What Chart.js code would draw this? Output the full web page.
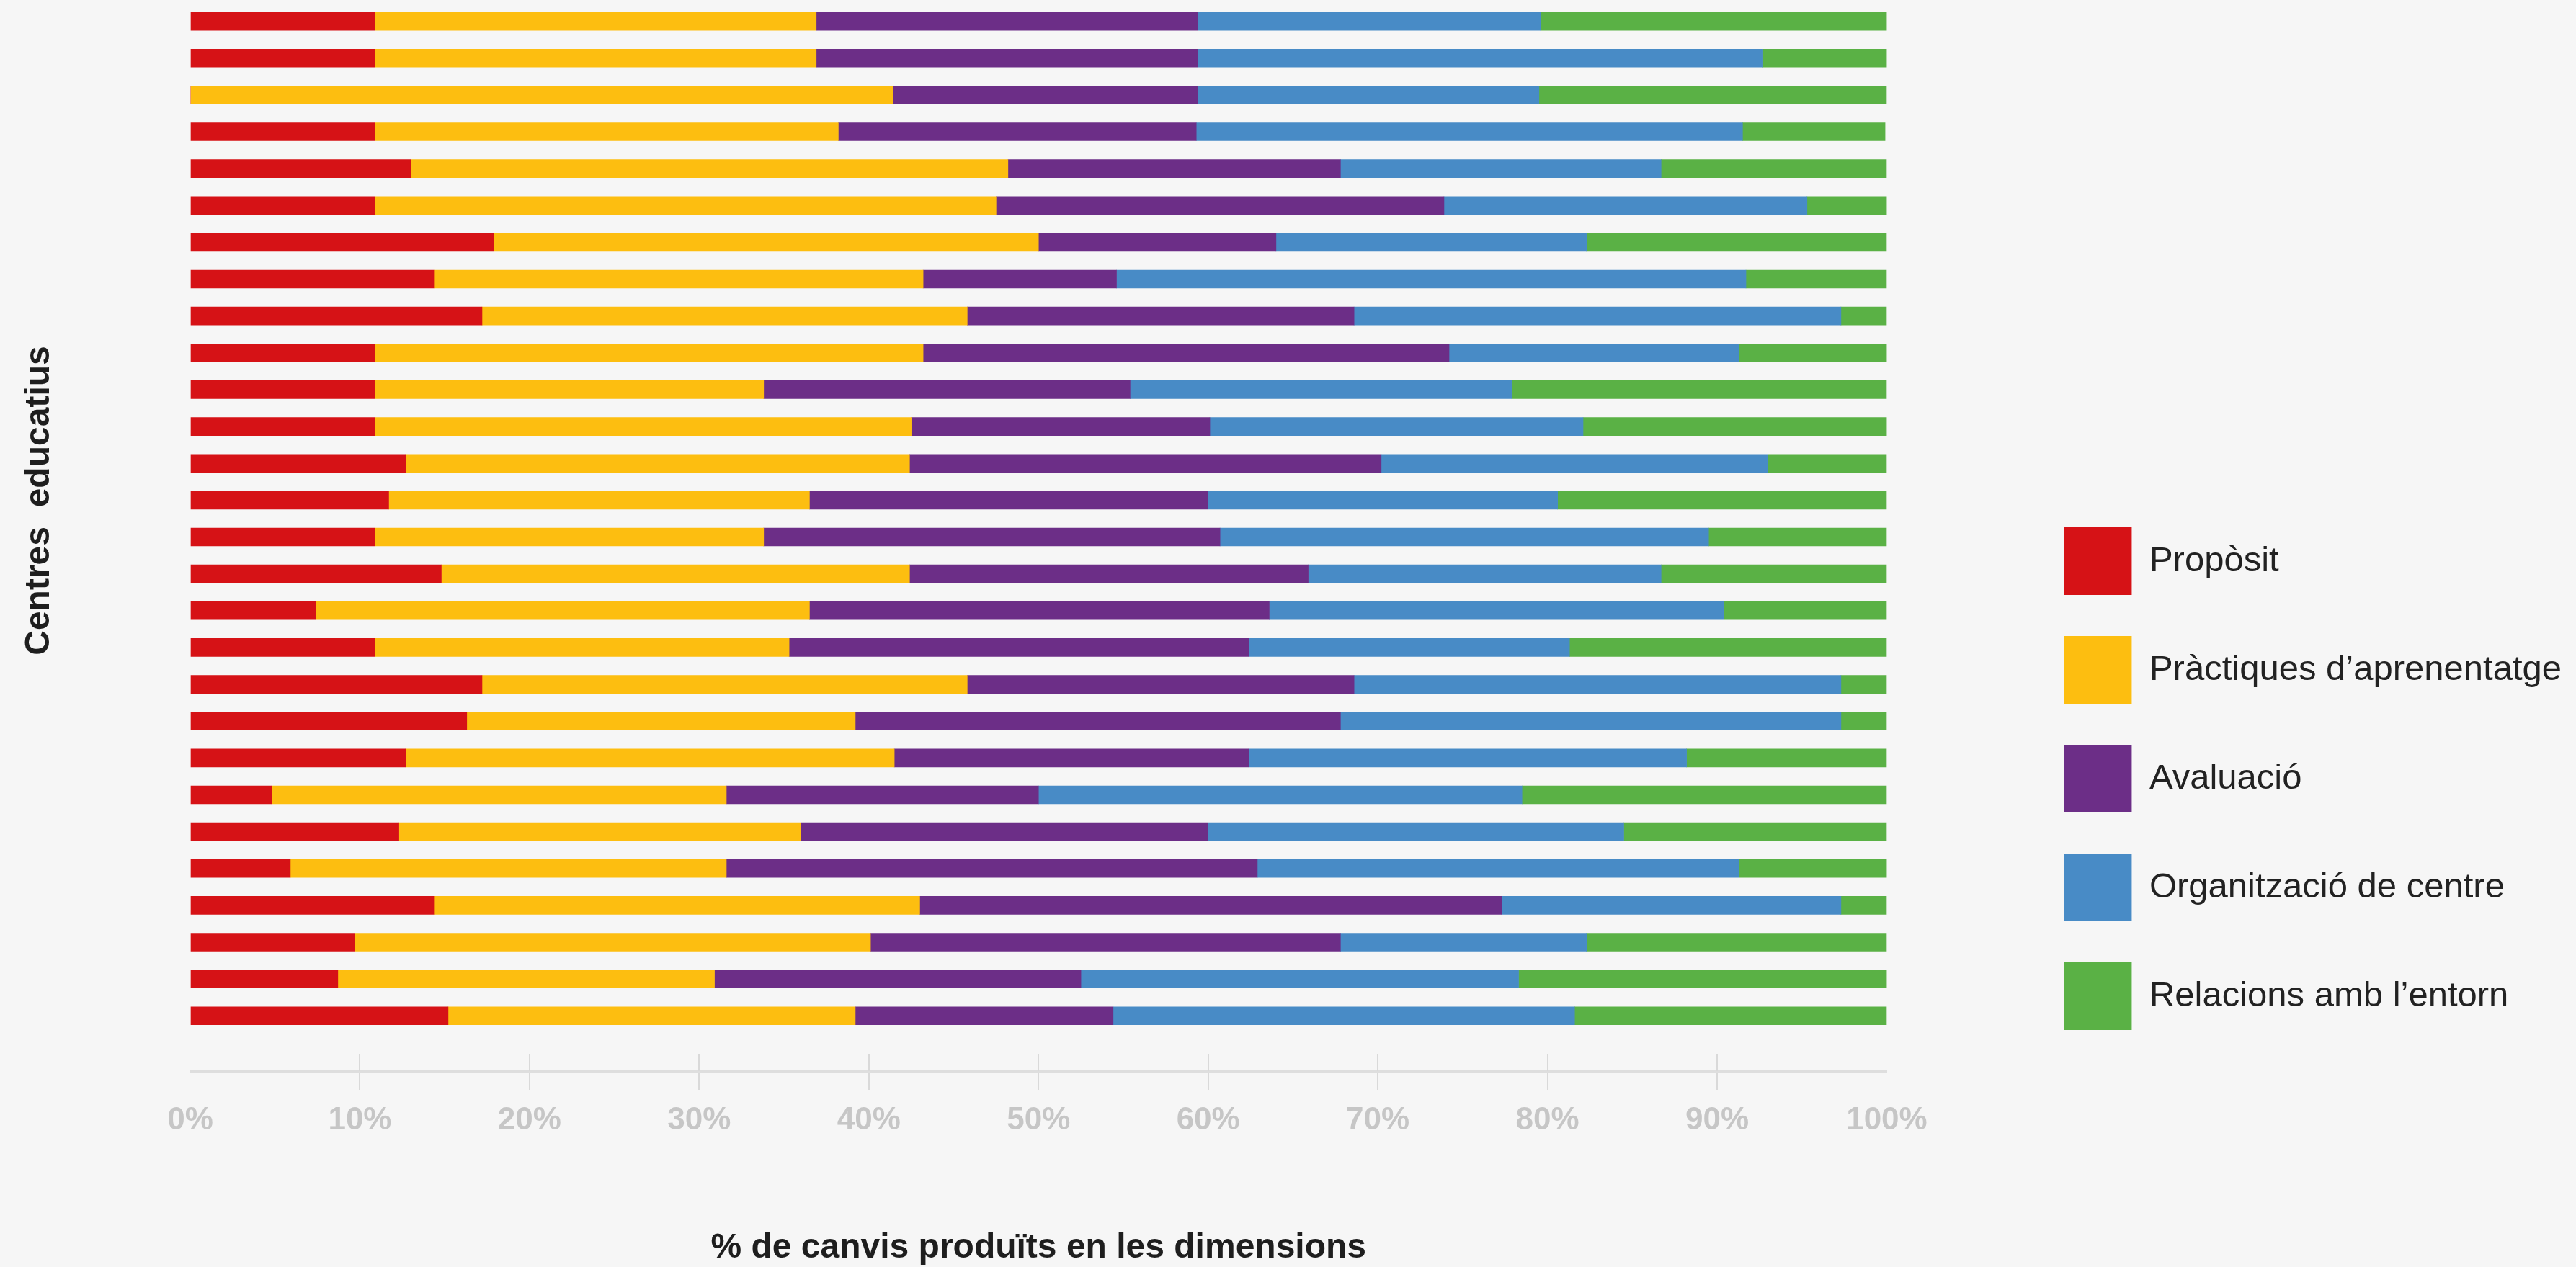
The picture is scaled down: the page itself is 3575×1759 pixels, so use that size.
<!DOCTYPE html>
<html>
<head>
<meta charset="utf-8">
<script src="https://cdn.jsdelivr.net/npm/chart.js@4.4.1/dist/chart.umd.min.js"></script>
<style>
  html, body { margin: 0; padding: 0; background: #f6f6f6; }
  #wrap { position: relative; width: 3575px; height: 1759px; }
  canvas { display: block; }
</style>
</head>
<body>
<div id="wrap"><canvas id="chart" width="3575" height="1759"></canvas></div>
<script>
// ---------- DATA ----------
const centres = [
  'Centre 1','Centre 2','Centre 3','Centre 4','Centre 5','Centre 6','Centre 7',
  'Centre 8','Centre 9','Centre 10','Centre 11','Centre 12','Centre 13','Centre 14',
  'Centre 15','Centre 16','Centre 17','Centre 18','Centre 19','Centre 20','Centre 21',
  'Centre 22','Centre 23','Centre 24','Centre 25','Centre 26','Centre 27','Centre 28'
];
const seriesNames = ['Propòsit', 'Pràctiques d’aprenentatge', 'Avaluació', 'Organització de centre', 'Relacions amb l’entorn'];

const proposit     = [10.9,10.9,0,10.9,13.0,10.9,17.9,14.4,17.2,10.9,10.9,10.9,12.7,11.7,10.9,14.8,7.4,10.9,17.2,16.3,12.7,4.8,12.3,5.9,14.4,9.7,8.7,15.2];
const practiques   = [26.0,26.0,41.4,27.3,35.2,36.6,32.1,28.8,28.6,32.3,22.9,31.6,29.7,24.8,22.9,27.6,29.1,24.4,28.6,22.9,28.8,26.8,23.7,25.7,28.6,30.4,22.2,24.0];
const avaluacio    = [22.5,22.5,18.0,21.1,19.6,26.4,14.0,11.4,22.8,31.0,21.6,17.6,27.8,23.5,26.9,23.5,27.1,27.1,22.8,28.6,20.9,18.4,24.0,31.3,34.3,27.7,21.6,15.2];
const organitzacio = [20.2,33.3,20.1,32.2,18.9,21.4,18.3,37.1,28.7,17.1,22.5,22.0,22.8,20.6,28.8,20.8,26.8,18.9,28.7,29.5,25.8,28.5,24.5,28.4,20.0,14.5,25.8,27.2];
const relacions    = [20.5,7.4,20.5,8.4,13.3,4.8,17.7,8.3,2.7,8.8,22.1,18.0,7.0,19.4,10.5,13.3,9.6,18.7,2.7,2.7,11.8,21.5,15.5,8.8,2.7,17.7,21.9,18.4];

const xTickValues = [0,10,20,30,40,50,60,70,80,90,100];
const xTickLabels = ['0%','10%','20%','30%','40%','50%','60%','70%','80%','90%','100%'];
const xTitle = '% de canvis produïts en les dimensions';
const yTitle = 'Centres  educatius';

// ---------- STYLE ----------
const seriesValues = [proposit, practiques, avaluacio, organitzacio, relacions];
const seriesColors = ['#D61216', '#FDBE10', '#6C2E87', '#488BC6', '#5AB145'];
const FONT = "'Liberation Sans', Arial, Helvetica, sans-serif";

Chart.defaults.font.family = FONT;
Chart.defaults.color = '#222222';

const datasets = seriesNames.map((name, s) => ({
  label: name,
  data: seriesValues[s].map((v, i) => ({ x: v, y: i })),
  backgroundColor: seriesColors[s],
  borderWidth: 0,
  barThickness: 25
}));

// upper half of the x-axis tick marks (they cross the axis line)
const tickMarksUp = {
  id: 'tickMarksUp',
  afterDraw(chart) {
    const s = chart.scales.x;
    const ctx = chart.ctx;
    const y = s.top;
    ctx.save();
    ctx.strokeStyle = '#d9d9d9';
    ctx.lineWidth = 2;
    s.ticks.forEach((t, i) => {
      if (t.value <= s.min || t.value >= s.max) return;
      const px = Math.round(s.getPixelForTick(i) - 1) + 1;
      ctx.beginPath();
      ctx.moveTo(px, y - 24);
      ctx.lineTo(px, y);
      ctx.stroke();
    });
    ctx.restore();
  }
};

// vertical axis title
const yTitlePlugin = {
  id: 'yTitleText',
  afterDraw(chart, args, opts) {
    const ctx = chart.ctx;
    ctx.save();
    ctx.translate(chart.chartArea.left + opts.dx, chart.chartArea.top + opts.dy);
    ctx.rotate(-Math.PI / 2);
    ctx.font = 'bold 48px ' + FONT;
    ctx.fillStyle = '#1e1e1e';
    ctx.textAlign = 'center';
    ctx.textBaseline = 'middle';
    ctx.fillText(opts.text, 0, 0);
    ctx.restore();
  }
};

new Chart(document.getElementById('chart'), {
  type: 'bar',
  data: { labels: centres, datasets },
  plugins: [tickMarksUp, yTitlePlugin],
  options: {
    indexAxis: 'y',
    responsive: false,
    devicePixelRatio: 1,
    animation: false,
    layout: { padding: { top: 4, right: 10, bottom: 0, left: 0 } },
    scales: {
      x: {
        type: 'linear',
        position: 'bottom',
        min: 0,
        max: 100,
        stacked: true,
        afterBuildTicks(scale) { scale.ticks = xTickValues.map(v => ({ value: v })); },
        ticks: {
          callback: (v) => xTickLabels[xTickValues.indexOf(v)],
          font: { size: 44, weight: 'bold', lineHeight: '52px' },
          color: '#c6c6c6',
          padding: 17,
          maxRotation: 0,
          autoSkip: false
        },
        grid: {
          display: true,
          drawOnChartArea: false,
          drawTicks: true,
          tickLength: 26,
          lineWidth: 2,
          color: (c) => (c.tick && (c.tick.value === 0 || c.tick.value === 100)) ? 'rgba(0,0,0,0)' : '#d9d9d9'
        },
        border: { display: true, color: '#dedede', width: 3 },
        title: {
          display: true,
          text: xTitle,
          color: '#1e1e1e',
          font: { size: 48, weight: 'bold', lineHeight: '58px' },
          padding: { top: 105, bottom: -3 }
        }
      },
      y: {
        type: 'linear',
        position: 'left',
        min: -0.5,
        max: 28.5,
        reverse: true,
        stacked: true,
        offset: false,
        grid: { display: false, offset: false },
        ticks: { display: false },
        border: { display: false },
        afterFit(scale) { scale.width = 264; }
      },
      ySpacer: {
        type: 'linear',
        axis: 'y',
        position: 'right',
        offset: false,
        grid: { display: false },
        ticks: { display: false },
        border: { display: false },
        afterFit(scale) { scale.width = 189; }
      }
    },
    plugins: {
      legend: {
        display: true,
        position: 'right',
        align: 'end',
        fullSize: false,
        maxWidth: 900,
        labels: {
          boxWidth: 94,
          boxHeight: 94,
          padding: 57,
          color: '#222222',
          font: { size: 49, weight: 'normal' }
        }
      },
      tooltip: { enabled: true },
      yTitleText: { text: yTitle, dx: -209, dy: 691 }
    }
  }
});
</script>
</body>
</html>
